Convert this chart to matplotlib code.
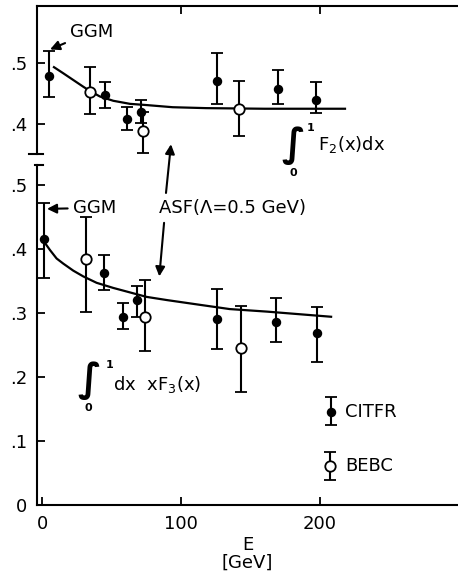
import numpy as np
import matplotlib
matplotlib.use("Agg")
import matplotlib.pyplot as plt
from matplotlib.lines import Line2D

plt.rcParams["font.family"] = ["DejaVu Sans"]
plt.rcParams["mathtext.fontset"] = "dejavusans"

# --- integral of F2: GGM, CITFR, BEBC (E in GeV, value, error low/high edge) ---
ggm_f2_E = [5.3]
ggm_f2 = [0.479]
ggm_f2_lo = [0.445]
ggm_f2_hi = [0.519]

citfr_f2_E = [45, 61, 71, 126, 170, 197]
citfr_f2 = [0.448, 0.409, 0.420, 0.470, 0.458, 0.440]
citfr_f2_lo = [0.427, 0.390, 0.401, 0.432, 0.432, 0.418]
citfr_f2_hi = [0.469, 0.428, 0.439, 0.516, 0.489, 0.468]

bebc_f2_E = [34.5, 73, 142]
bebc_f2 = [0.452, 0.389, 0.424]
bebc_f2_lo = [0.416, 0.353, 0.380]
bebc_f2_hi = [0.493, 0.420, 0.471]

# ASF prediction (Lambda = 0.5 GeV) for the F2 integral
asf_f2_E = [8.6, 15.3, 22.5, 29.7, 34.5, 41.7, 51.3, 63.3, 75.3, 94, 118,
            160, 218]
asf_f2 = [0.493, 0.483, 0.472, 0.461, 0.454, 0.445, 0.438, 0.433, 0.431,
          0.4275, 0.426, 0.425, 0.425]

# --- integral of x F3 ---
ggm_f3_E = [1.7]
ggm_f3 = [0.416]
ggm_f3_lo = [0.354]
ggm_f3_hi = [0.472]

citfr_f3_E = [44.6, 58, 68, 126, 168, 197.6]
citfr_f3 = [0.363, 0.294, 0.320, 0.290, 0.286, 0.268]
citfr_f3_lo = [0.335, 0.275, 0.293, 0.244, 0.254, 0.223]
citfr_f3_hi = [0.390, 0.315, 0.342, 0.337, 0.323, 0.310]

bebc_f3_E = [31.7, 74, 143]
bebc_f3 = [0.384, 0.294, 0.245]
bebc_f3_lo = [0.301, 0.240, 0.177]
bebc_f3_hi = [0.450, 0.352, 0.311]

asf_f3_E = [2.2, 5.8, 10.5, 15.3, 22.5, 29.7, 39.3, 51.3, 63.3, 75.3, 90,
            114, 135, 162, 208]
asf_f3 = [0.409, 0.398, 0.385, 0.377, 0.366, 0.357, 0.347, 0.339, 0.332,
          0.325, 0.320, 0.3125, 0.306, 0.302, 0.294]

x_ticks = [0, 100, 200]
x_ticklabels = ["0", "100", "200"]
y_hi_ticks = [0.4, 0.5]
y_hi_ticklabels = [".4", ".5"]
y_lo_ticks = [0.0, 0.1, 0.2, 0.3, 0.4, 0.5]
y_lo_ticklabels = ["0", ".1", ".2", ".3", ".4", ".5"]

W, H, DPI = 458, 577, 100
FS = 13


def points(ax, E, v, lo, hi, filled):
    yerr = [np.subtract(v, lo), np.subtract(hi, v)]
    ax.errorbar(E, v, yerr=yerr, fmt="o", ms=5.5 if filled else 7.5,
                mfc="k" if filled else "white", mec="k", mew=1.3,
                ecolor="k", elinewidth=1.5, capsize=4, capthick=1.5,
                zorder=3, clip_on=False)


def integral(ax, x, y, lower, upper, body, body_x, body_y):
    # big integral sign with its limits, then the integrand
    ax.text(x, y, "\u222b", ha="center", va="center", fontsize=28,
            weight="bold")
    ax.text(*upper, "1", ha="center", va="center", fontsize=8, weight="bold")
    ax.text(*lower, "0", ha="center", va="center", fontsize=8, weight="bold")
    ax.text(body_x, body_y, body, ha="left", va="center", fontsize=FS)


arrow = dict(arrowstyle="-|>", color="k", lw=1.5, mutation_scale=14,
             shrinkA=2, shrinkB=0)

fig = plt.figure(figsize=(W / DPI, H / DPI), dpi=DPI)
ax_lo = fig.add_axes([37 / W, 1 - 505 / H, 1 - 37 / W, (505 - 165) / H])
ax_hi = fig.add_axes([37 / W, 1 - 154 / H, 1 - 37 / W, (154 - 6) / H])

for ax in (ax_lo, ax_hi):
    ax.set_facecolor("none")
    ax.set_xlim(-3.6, 299.3)
    ax.spines["right"].set_visible(False)
    for s in ax.spines.values():
        s.set_linewidth(1.5)
    ax.tick_params(direction="in", length=6, width=1.3, labelsize=FS, pad=7)

ax_hi.set_ylim(0.351, 0.593)
ax_lo.set_ylim(0.0, 0.531)
ax_hi.spines["bottom"].set_visible(False)
ax_lo.spines["top"].set_visible(False)

ax_hi.set_xticks(x_ticks[1:])
ax_hi.tick_params(axis="x", top=True, bottom=False, labeltop=False, labelbottom=False)
ax_hi.set_yticks(y_hi_ticks, y_hi_ticklabels)
ax_lo.set_xticks(x_ticks, x_ticklabels)
ax_lo.set_yticks(y_lo_ticks, y_lo_ticklabels)
ax_lo.set_xlabel("E\n[GeV]", fontsize=FS, linespacing=1.05, labelpad=2)

# axis break marks on the shared left spine
fig.add_artist(Line2D([29 / W, 43 / W], [1 - 154 / H] * 2, color="k", lw=1.5))
fig.add_artist(Line2D([35 / W, 43 / W], [1 - 165 / H] * 2, color="k", lw=1.5))

# upper panel
ax_hi.plot(asf_f2_E, asf_f2, color="k", lw=1.6, zorder=2)
points(ax_hi, ggm_f2_E, ggm_f2, ggm_f2_lo, ggm_f2_hi, True)
points(ax_hi, citfr_f2_E, citfr_f2, citfr_f2_lo, citfr_f2_hi, True)
points(ax_hi, bebc_f2_E, bebc_f2, bebc_f2_lo, bebc_f2_hi, False)
ax_hi.annotate("GGM", xy=(5.8, 0.522), xytext=(36, 0.551), ha="center",
               va="center", fontsize=FS, arrowprops=arrow)
integral(ax_hi, 181, 0.365, (181, 0.320), (193, 0.393),
         "F$_2$(x)dx", 198.6, 0.367)

# lower panel
ax_lo.plot(asf_f3_E, asf_f3, color="k", lw=1.6, zorder=2)
points(ax_lo, ggm_f3_E, ggm_f3, ggm_f3_lo, ggm_f3_hi, True)
points(ax_lo, citfr_f3_E, citfr_f3, citfr_f3_lo, citfr_f3_hi, True)
points(ax_lo, bebc_f3_E, bebc_f3, bebc_f3_lo, bebc_f3_hi, False)
ax_lo.annotate("GGM", xy=(3.6, 0.4625), xytext=(38, 0.464), ha="center",
               va="center", fontsize=FS, arrowprops=arrow)
ax_lo.text(137, 0.464, "ASF(Λ=0.5 GeV)", ha="center", va="center", fontsize=FS)
ax_hi.annotate("", xy=(92.8, 0.367), xytext=(89, 0.483),
               textcoords=ax_lo.transData, arrowprops=arrow)
ax_lo.annotate("", xy=(84.4, 0.357), xytext=(88, 0.445), arrowprops=arrow)
integral(ax_lo, 33.8, 0.1945, (33.1, 0.152), (48.9, 0.219),
         "dx  xF$_3$(x)", 51, 0.1875)

# legend samples
points(ax_lo, [208], [0.145], [0.125], [0.168], True)
points(ax_lo, [207], [0.061], [0.039], [0.083], False)
ax_lo.text(218, 0.145, "CITFR", ha="left", va="center", fontsize=FS)
ax_lo.text(218, 0.061, "BEBC", ha="left", va="center", fontsize=FS)

fig.savefig("out.png", dpi=DPI)
